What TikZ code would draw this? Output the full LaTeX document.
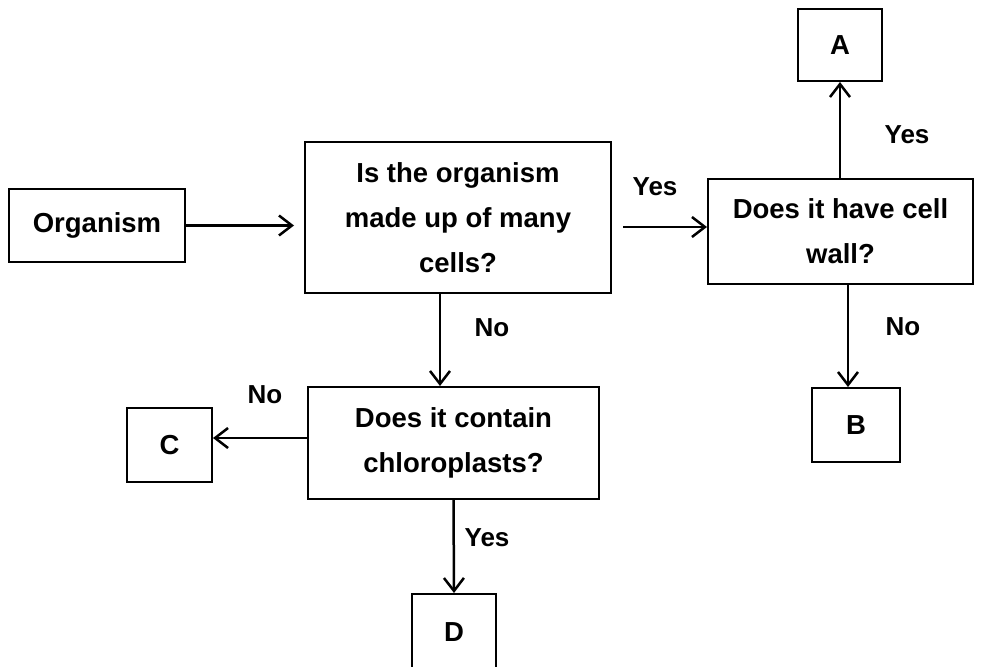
\documentclass[tikz,border=0pt]{standalone}
\usepackage{fontspec}
\setmainfont{Liberation Sans}
\usetikzlibrary{shapes}
\usetikzlibrary{arrows.meta}
\tikzset{
	flnode/.style = {align=center, inner sep=0pt, text centered,
		font=\bfseries\fontsize{27.5}{45}\selectfont},
	fl_q/.style = {flnode, rectangle, draw=black, line width=2pt},% question
	fl_r/.style = {flnode, rectangle, draw=black, line width=2pt,
		minimum width=86pt, minimum height=74pt},% resultat A B C D
	fl_l/.style = {flnode, font=\bfseries\fontsize{26}{30}\selectfont}% oui / non
}

\begin{document}
\begin{tikzpicture}[x=1pt,y=-1pt,line width=2.5pt,
		>={Straight Barb[length=13pt,width=20pt,line width=2.5pt]}]
			\useasboundingbox (0,0) rectangle (981,666);
			\node [fl_q, minimum width=176pt, minimum height=73pt] (org) at (97,225.5) {Organism};
			\node [fl_q, minimum width=306pt, minimum height=151pt] (cells) at (458,217.5)
				{Is the organism\\made up of many\\cells?};
			\node [fl_q, minimum width=265pt, minimum height=105pt] (wall) at (840.5,231.5)
				{Does it have cell\\wall?};
			\node [fl_q, minimum width=291pt, minimum height=112pt] (chloro) at (453.5,443)
				{Does it contain\\chloroplasts?};
			\node [fl_r, minimum width=84pt, minimum height=72pt] (resA) at (840,45) {A};
			\node [fl_r, minimum width=88pt] (resB) at (856,425) {B};
			\node [fl_r, minimum width=85pt] (resC) at (169.5,445) {C};
			\node [fl_r, minimum width=84pt, minimum height=76pt] (resD) at (454,632) {D};
			% labels
			\node [fl_l] (yes_wall) at (655,187) {Yes};
			\node [fl_l] (yes_a) at (907,135) {Yes};
			\node [fl_l] (no_b) at (903,327) {No};
			\node [fl_l] (no_cells) at (492,328) {No};
			\node [fl_l] (no_c) at (265,395) {No};
			\node [fl_l] (yes_d) at (487,538) {Yes};
			% fleches
			\draw [->, shorten >=10pt] (org.east) -- (org.east -| cells.west);
			\draw [->, shorten <=11pt] ([yshift=4.5pt]wall.west -| cells.east) -- ([yshift=4.5pt]wall.west);
			\draw [->] (wall.north -| resA.south) -- (resA.south);
			\draw [->] ([xshift=-8pt]resB.north |- wall.south) -- ([xshift=-8pt]resB.north);
			\draw [->] ([xshift=-13.5pt]chloro.north |- cells.south) -- ([xshift=-13.5pt]chloro.north);
			\draw [->] ([yshift=5pt]chloro.west) -- ([yshift=5pt]chloro.west -| resC.east);
			\draw [->] (chloro.south) -- (resD.north);
\end{tikzpicture}
\end{document}
